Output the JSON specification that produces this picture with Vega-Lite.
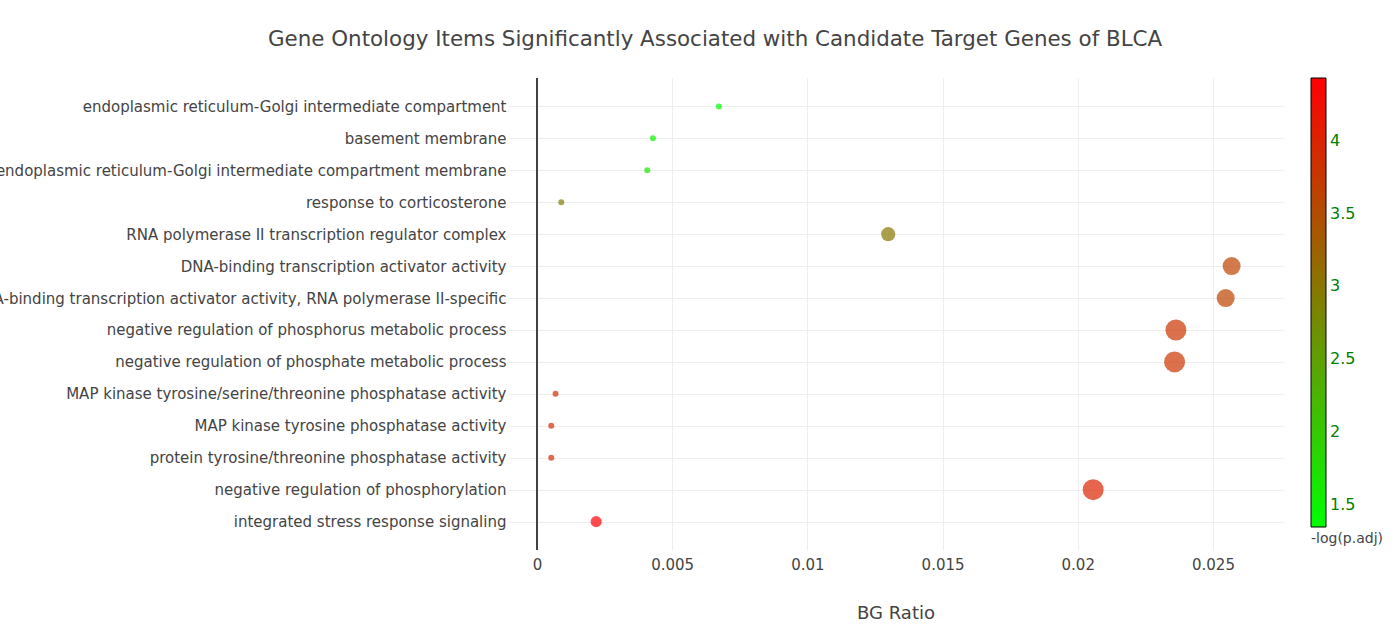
{
  "$schema": "https://vega.github.io/schema/vega-lite/v6.json",
  "autosize": {"type": "none"},
  "width": 775,
  "height": 472,
  "padding": {"left": 508, "top": 78, "right": 114, "bottom": 74},
  "background": "white",
  "title": {
    "text": "Gene Ontology Items Significantly Associated with Candidate Target Genes of BLCA",
    "anchor": "start",
    "frame": "group",
    "dx": -240,
    "offset": 27,
    "font": "DejaVu Sans",
    "fontSize": 21.4,
    "fontWeight": "normal",
    "color": "#444444"
  },
  "config": {
    "view": {"stroke": null},
    "font": "DejaVu Sans"
  },
  "data": {
    "values": [
      {"Description": "endoplasmic reticulum-Golgi intermediate compartment", "BgRatio": 0.00673, "Count": 2, "logp": 1.35},
      {"Description": "basement membrane", "BgRatio": 0.00429, "Count": 2, "logp": 1.5},
      {"Description": "endoplasmic reticulum-Golgi intermediate compartment membrane", "BgRatio": 0.00408, "Count": 2, "logp": 1.6},
      {"Description": "response to corticosterone", "BgRatio": 0.0009, "Count": 2, "logp": 2.9},
      {"Description": "RNA polymerase II transcription regulator complex", "BgRatio": 0.01299, "Count": 4.7, "logp": 3.0},
      {"Description": "DNA-binding transcription activator activity", "BgRatio": 0.02569, "Count": 6, "logp": 3.65},
      {"Description": "DNA-binding transcription activator activity, RNA polymerase II-specific", "BgRatio": 0.02547, "Count": 6, "logp": 3.65},
      {"Description": "negative regulation of phosphorus metabolic process", "BgRatio": 0.02363, "Count": 7, "logp": 3.8},
      {"Description": "negative regulation of phosphate metabolic process", "BgRatio": 0.02358, "Count": 7, "logp": 3.8},
      {"Description": "MAP kinase tyrosine/serine/threonine phosphatase activity", "BgRatio": 0.00069, "Count": 2, "logp": 3.85},
      {"Description": "MAP kinase tyrosine phosphatase activity", "BgRatio": 0.00053, "Count": 2, "logp": 3.9},
      {"Description": "protein tyrosine/threonine phosphatase activity", "BgRatio": 0.00053, "Count": 2, "logp": 3.9},
      {"Description": "negative regulation of phosphorylation", "BgRatio": 0.02057, "Count": 7, "logp": 4.0},
      {"Description": "integrated stress response signaling", "BgRatio": 0.00219, "Count": 3.7, "logp": 4.43}
    ]
  },
  "layer": [
    {
      "mark": {"type": "circle", "fillOpacity": 0.7},
      "encoding": {
        "y": {
          "field": "Description",
          "type": "nominal",
          "sort": null,
          "title": null,
          "scale": {"type": "point", "padding": 0.89},
          "axis": {
            "domain": false,
            "ticks": false,
            "grid": true,
            "gridColor": "#eeeeee",
            "gridWidth": 1,
            "labelPadding": 2,
            "labelFontSize": 15,
            "labelColor": "#444444",
            "labelLimit": 0,
            "labelFont": "DejaVu Sans"
          }
        },
        "x": {
          "field": "BgRatio",
          "type": "quantitative",
          "title": "BG Ratio",
          "scale": {"domain": [-0.00107, 0.02759], "nice": false, "zero": false},
          "axis": {
            "values": [0, 0.005, 0.01, 0.015, 0.02, 0.025],
            "format": "~g",
            "domain": false,
            "ticks": false,
            "grid": true,
            "gridColor": "#eeeeee",
            "labelPadding": 7,
            "labelFontSize": 15,
            "labelColor": "#444444",
            "titleFontSize": 18,
            "titleFontWeight": "normal",
            "titleColor": "#444444",
            "titlePadding": 32
          }
        },
        "size": {
          "field": "Count",
          "type": "quantitative",
          "scale": {"type": "pow", "exponent": 2, "domain": [0, 7], "range": [0, 441]},
          "legend": null
        },
        "color": {
          "field": "logp",
          "type": "quantitative",
          "title": "-log(p.adj)",
          "scale": {"domain": [1.35, 4.43], "range": ["#00ff00", "#ff0000"], "interpolate": "rgb"},
          "legend": {
            "orient": "none",
            "legendX": 803,
            "legendY": 0,
            "direction": "vertical",
            "padding": 0,
            "gradientLength": 449,
            "gradientThickness": 15,
            "gradientStrokeColor": "#000000",
            "gradientStrokeWidth": 1,
            "values": [1.5, 2, 2.5, 3, 3.5, 4],
            "format": "~g",
            "labelFontSize": 16,
            "labelColor": "#008000",
            "labelOffset": 4,
            "titleOrient": "bottom",
            "titleFontSize": 14,
            "titleFontWeight": "normal",
            "titleColor": "#444444",
            "titlePadding": 4,
            "encode": {"gradient": {"enter": {"opacity": {"value": 1}, "fillOpacity": {"value": 1}}, "update": {"opacity": {"value": 1}, "fillOpacity": {"value": 1}}}}
          }
        }
      }
    },
    {
      "mark": {"type": "rule", "color": "#444444", "strokeWidth": 1},
      "encoding": {"x": {"datum": 0, "type": "quantitative"}}
    }
  ]
}
